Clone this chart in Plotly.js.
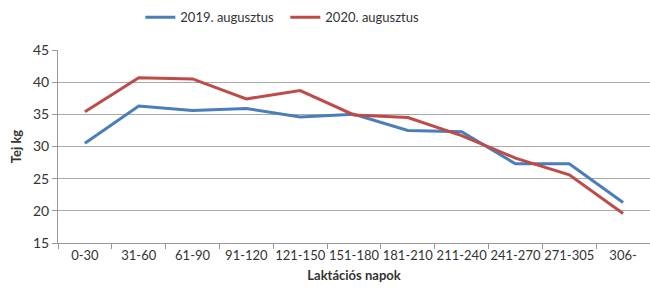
<!DOCTYPE html>
<html><head><meta charset="utf-8">
<script src="https://cdn.plot.ly/plotly-3.0.1.min.js"></script>
<style>body{margin:0;padding:0;background:#fff}#chart{width:650px;height:295px}</style>
</head><body><div id="chart"></div>
<script>
const categories = ["0-30","31-60","61-90","91-120","121-150","151-180","181-210","211-240","241-270","271-305","306-"];
const series2019 = [30.5,36.3,35.6,35.9,34.6,35.0,32.5,32.3,27.3,27.3,21.3];
const series2020 = [35.4,40.7,40.5,37.4,38.7,34.9,34.5,31.7,28.2,25.6,19.6];
const yTicks = [15,20,25,30,35,40,45];
const fontFam = "Lato, 'Open Sans', sans-serif";
const traces = [
  {x: categories, y: series2019, type:'scatter', mode:'lines', name:'2019. augusztus', line:{color:'#4a7ebb', width:3}},
  {x: categories, y: series2020, type:'scatter', mode:'lines', name:'2020. augusztus', line:{color:'#be4b48', width:3}}
];
const layout = {
  width:650, height:295,
  margin:{l:58, r:0, t:50, b:52, autoexpand:false},
  paper_bgcolor:'#fff', plot_bgcolor:'#fff',
  font:{family:fontFam, size:13, color:'#333'},
  showlegend:true,
  legend:{orientation:'h', x:0.384, xanchor:'center', y:1.17, yanchor:'middle', font:{size:13, color:'#333'}, itemwidth:30, entrywidth:100, traceorder:'normal'},
  xaxis:{type:'category', tickson:'boundaries', ticks:'outside', ticklen:5, tickcolor:'#999', showline:true, linecolor:'#999', showgrid:false,
    tickangle:0, tickfont:{size:13, color:'#333'}, range:[-0.5,10.5], automargin:false,
    title:{text:'Laktációs napok', font:{size:13, color:'#333', family:fontFam, weight:'bold'}, standoff:9}},
  yaxis:{range:[15,45], tickvals:yTicks, ticks:'outside', ticklen:5, tickcolor:'#999', showline:true, linecolor:'#999', gridcolor:'#a8a8a8', gridwidth:1,
    zeroline:false, tickfont:{size:14, color:'#333'}, automargin:false,
    title:{text:'Tej kg', font:{size:13, color:'#333', family:fontFam, weight:'bold'}, standoff:8}}
};
Plotly.newPlot('chart', traces, layout, {displayModeBar:false, staticPlot:true});
</script></body></html>
